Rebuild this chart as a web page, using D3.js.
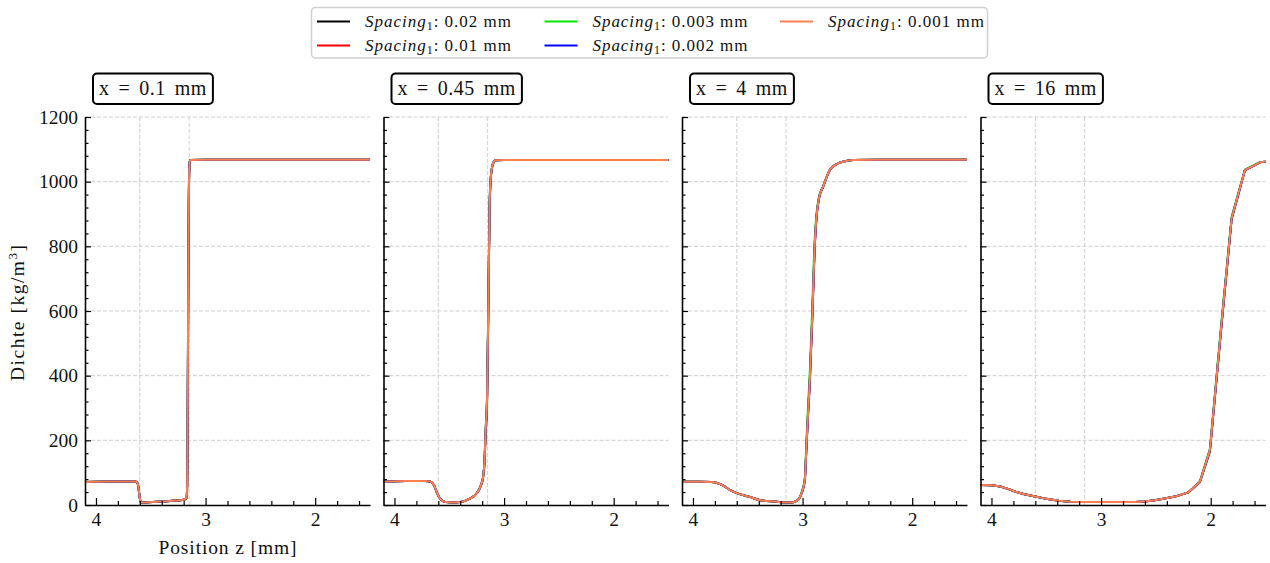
<!DOCTYPE html>
<html><head><meta charset="utf-8">
<script src="https://cdn.jsdelivr.net/npm/d3@7"></script>
<style>body{margin:0;background:#fff}svg{display:block}text{font-family:"Liberation Serif",serif;fill:#111}</style>
</head><body><svg id="c" width="1270" height="563"></svg>
<script>
// ---------- data ----------
const seriesLabels = ["0.02 mm", "0.01 mm", "0.003 mm", "0.002 mm", "0.001 mm"];
const seriesColors = ["#000000", "#ff0000", "#00e600", "#0000ff", "#ff7f50"];
const panelTitles = ["x = 0.1 mm", "x = 0.45 mm", "x = 4 mm", "x = 16 mm"];
const xTicks = [4, 3, 2];
const xMinorTicks = [3.8, 3.6, 3.4, 3.2, 2.8, 2.6, 2.4, 2.2, 1.8, 1.6];
const yTicks = [0, 200, 400, 600, 800, 1000, 1200];
const yMinorTicks = [40, 80, 120, 160, 240, 280, 320, 360, 440, 480, 520, 560, 640, 680, 720, 760, 840, 880, 920, 960, 1040, 1080, 1120, 1160];
const refLines = [3.6, 3.15];

// x = 0.1 mm
const z1 = [4.10, 3.90, 3.70, 3.64, 3.62, 3.605, 3.595, 3.585, 3.40, 3.20, 3.175, 3.168, 3.163, 3.158, 3.153, 3.148, 3.143, 3.138, 3.00, 2.50, 2.00, 1.50];
const rho1 = [
  [71, 73, 73, 73, 66, 33, 12, 8, 11, 16, 20, 50, 260, 660, 930, 1040, 1063, 1067, 1068, 1068, 1068, 1068],
  [71, 73, 73, 73, 67, 34, 12, 8, 11, 16, 21, 55, 280, 680, 940, 1043, 1064, 1067, 1068, 1068, 1068, 1068],
  [71, 73, 73, 73, 68, 35, 12, 8, 11, 16, 22, 62, 310, 710, 955, 1046, 1064, 1067, 1068, 1068, 1068, 1068],
  [71, 73, 73, 73, 68, 35, 12, 8, 11, 16, 22, 61, 305, 705, 952, 1045, 1064, 1067, 1068, 1068, 1068, 1068],
  [71, 73, 73, 73, 68, 35, 12, 8, 11, 16, 22, 60, 300, 700, 950, 1045, 1064, 1067, 1068, 1068, 1068, 1068]
];
// x = 0.45 mm
const z2 = [4.10, 3.90, 3.72, 3.67, 3.64, 3.61, 3.58, 3.535, 3.46, 3.398, 3.323, 3.246, 3.216, 3.191, 3.18, 3.168, 3.155, 3.143, 3.131, 3.125, 3.109, 3.095, 3.079, 3.00, 2.50, 2.00, 1.50];
const rho2 = [
  [72, 74, 74, 72, 61, 35, 18, 9, 8, 9, 18, 38, 56, 85, 122, 220, 320, 620, 930, 990, 1044, 1060, 1066, 1067, 1067, 1067, 1067],
  [72, 74, 74, 72, 62, 36, 18, 9, 8, 9, 18, 38, 57, 87, 126, 226, 328, 630, 937, 992, 1045, 1061, 1066, 1067, 1067, 1067, 1067],
  [72, 74, 74, 72, 62, 36, 18, 9, 8, 9, 18, 38, 57, 88, 130, 235, 340, 645, 946, 996, 1046, 1061, 1066, 1067, 1067, 1067, 1067],
  [72, 74, 74, 72, 62, 36, 18, 9, 8, 9, 18, 38, 57, 88, 129, 233, 337, 642, 944, 995, 1046, 1061, 1066, 1067, 1067, 1067, 1067],
  [72, 74, 74, 72, 62, 36, 18, 9, 8, 9, 18, 38, 57, 88, 129, 232, 335, 640, 943, 995, 1046, 1061, 1066, 1067, 1067, 1067, 1067]
];
// x = 4 mm
const z3 = [4.10, 3.95, 3.83, 3.78, 3.72, 3.66, 3.594, 3.49, 3.388, 3.236, 3.176, 3.10, 3.055, 3.03, 3.01, 2.98, 2.965, 2.95, 2.934, 2.91, 2.89, 2.873, 2.85, 2.812, 2.78, 2.752, 2.70, 2.661, 2.60, 2.54, 2.30, 2.00, 1.50];
const rho3 = [
  [72, 72, 71, 68, 59, 46, 36, 26, 15, 10, 8, 8, 13, 20, 36, 75, 175, 278, 380, 590, 792, 888, 948, 984, 1014, 1035, 1052, 1059, 1064, 1067, 1068, 1068, 1068],
  [72, 72, 71, 68, 59, 46, 36, 26, 15, 10, 8, 8, 13, 20, 36, 76, 178, 281, 384, 595, 796, 890, 949, 985, 1015, 1036, 1052, 1059, 1064, 1067, 1068, 1068, 1068],
  [72, 72, 71, 68, 59, 46, 36, 26, 15, 10, 8, 8, 13, 20, 38, 84, 200, 310, 415, 630, 820, 902, 954, 987, 1016, 1036, 1052, 1059, 1064, 1067, 1068, 1068, 1068],
  [72, 72, 71, 68, 59, 46, 36, 26, 15, 10, 8, 8, 13, 20, 36, 77, 180, 284, 387, 600, 800, 892, 950, 985, 1015, 1036, 1052, 1059, 1064, 1067, 1068, 1068, 1068],
  [72, 72, 71, 68, 59, 46, 36, 26, 15, 10, 8, 8, 13, 20, 36, 77, 180, 284, 387, 600, 800, 892, 950, 985, 1015, 1036, 1052, 1059, 1064, 1067, 1068, 1068, 1068]
];
// x = 16 mm
const z4 = [4.10, 4.00, 3.918, 3.85, 3.78, 3.70, 3.60, 3.50, 3.387, 3.28, 3.174, 3.00, 2.80, 2.69, 2.60, 2.51, 2.42, 2.325, 2.204, 2.098, 2.007, 1.90, 1.809, 1.688, 1.551, 1.50];
const rho4 = [
  [62, 61, 57, 50, 41, 33, 26, 19, 13, 10, 9, 9, 9, 9, 11, 15, 20, 26, 39, 71, 166, 560, 884, 1035, 1060, 1062],
  [62, 61, 57, 50, 41, 33, 26, 19, 13, 10, 9, 9, 9, 9, 11, 15, 20, 26, 39, 72, 168, 563, 886, 1036, 1060, 1062],
  [62, 61, 57, 50, 41, 33, 26, 19, 13, 10, 9, 9, 9, 9, 11, 15, 20, 26, 39, 73, 175, 575, 892, 1037, 1060, 1062],
  [62, 61, 57, 50, 41, 33, 26, 19, 13, 10, 9, 9, 9, 9, 11, 15, 20, 26, 39, 72, 170, 566, 887, 1036, 1060, 1062],
  [62, 61, 57, 50, 41, 33, 26, 19, 13, 10, 9, 9, 9, 9, 11, 15, 20, 26, 39, 72, 170, 566, 887, 1036, 1060, 1062]
];

const panelZ = [z1, z2, z3, z4];
const panelRho = [rho1, rho2, rho3, rho4];

// ---------- layout ----------
const svg = d3.select("#c");
const panelLefts = [85, 383.5, 682, 980.5];
const panelW = 285, yTop = 117, yBot = 505;
const y = d3.scaleLinear().domain([0, 1200]).range([yBot, yTop]);

panelLefts.forEach((left, i) => {
  const x = d3.scaleLinear().domain([4.1, 1.5]).range([left, left + panelW]);
  const g = svg.append("g");

  // grid
  g.selectAll(".hg").data(yTicks.filter(v => v > 0)).join("line")
    .attr("x1", left).attr("x2", left + panelW)
    .attr("y1", d => y(d)).attr("y2", d => y(d))
    .attr("stroke", "#cfcfcf").attr("stroke-width", 1).attr("stroke-dasharray", "4,2");
  g.selectAll(".vg").data(refLines).join("line")
    .attr("x1", d => x(d)).attr("x2", d => x(d))
    .attr("y1", yTop).attr("y2", yBot)
    .attr("stroke", "#cfcfcf").attr("stroke-width", 1).attr("stroke-dasharray", "4,2");

  // lines
  const zs = panelZ[i];
  const line = d3.line().x(d => x(d[0])).y(d => y(d[1]))
    .curve(i === 3 ? d3.curveLinear : d3.curveMonotoneX);
  panelRho[i].forEach((vals, s) => {
    g.append("path").datum(zs.map((z, k) => [z, vals[k]]))
      .attr("d", line).attr("fill", "none")
      .attr("stroke", seriesColors[s]).attr("stroke-width", 2)
      .attr("stroke-linejoin", "round");
  });

  // axes
  const axG = g.append("g");
  axG.append("g").attr("transform", `translate(0,${yBot})`)
    .call(d3.axisBottom(x).tickValues(xTicks).tickFormat(d3.format("d")).tickSizeInner(-7).tickSizeOuter(0).tickPadding(7.5));
  axG.append("g").attr("transform", `translate(0,${yBot})`)
    .call(d3.axisBottom(x).tickValues(xMinorTicks).tickFormat("").tickSizeInner(-4).tickSizeOuter(0))
    .select(".domain").remove();
  axG.append("g").attr("transform", `translate(${left},0)`)
    .call(d3.axisLeft(y).tickValues(yTicks).tickFormat(i === 0 ? d3.format("d") : "").tickSizeInner(-6).tickSizeOuter(0).tickPadding(7));
  axG.append("g").attr("transform", `translate(${left},0)`)
    .call(d3.axisLeft(y).tickValues(yMinorTicks).tickFormat("").tickSizeInner(-3.5).tickSizeOuter(0))
    .select(".domain").remove();
  axG.selectAll(".domain").attr("stroke", "#000").attr("stroke-width", 1.6);
  axG.selectAll(".tick line").attr("stroke", "#000").attr("stroke-width", 1.2);
  axG.selectAll(".tick text").attr("font-family", "Liberation Serif").attr("font-size", 19.5).attr("fill", "#111");

  // title box
  const tg = g.append("g");
  const rect = tg.append("rect").attr("x", left + 8).attr("y", 73.5).attr("height", 30.5)
    .attr("rx", 4).attr("fill", "#fff").attr("stroke", "#000").attr("stroke-width", 2);
  const tt = tg.append("text").attr("x", left + 14).attr("y", 95)
    .attr("font-size", 20).attr("letter-spacing", 0.5).attr("word-spacing", 3.5).text(panelTitles[i]);
  const w = tt.node().getComputedTextLength();
  rect.attr("width", w + 12);
});

// axis labels
svg.append("text").attr("x", panelLefts[0] + panelW / 2).attr("y", 554).attr("text-anchor", "middle")
  .attr("font-size", 19.5).attr("textLength", 138).attr("lengthAdjust", "spacing").text("Position z [mm]");
const yl = svg.append("text").attr("transform", "translate(24,313) rotate(-90)").attr("text-anchor", "middle")
  .attr("font-size", 19.5).attr("textLength", 136).attr("lengthAdjust", "spacing");
yl.append("tspan").text("Dichte [kg/m");
yl.append("tspan").attr("font-size", 13).attr("dy", -7).text("3");
yl.append("tspan").attr("dy", 7).text("]");

// legend
const lg = svg.append("g");
lg.append("rect").attr("x", 311.5).attr("y", 7.5).attr("width", 676).attr("height", 50.5).attr("rx", 4)
  .attr("fill", "#fff").attr("stroke", "#d0d0d0").attr("stroke-width", 1.5);
const colX = [317, 544.5, 780];
const rowY = [21.5, 45.5];
const textW = [146, 146, 155, 155, 156];
seriesLabels.forEach((lab, s) => {
  const col = Math.floor(s / 2), row = s % 2;
  const cx = colX[col], cy = rowY[row];
  lg.append("line").attr("x1", cx).attr("x2", cx + 33).attr("y1", cy).attr("y2", cy)
    .attr("stroke", seriesColors[s]).attr("stroke-width", 2);
  const t = lg.append("text").attr("x", cx + 48).attr("y", cy + 5).attr("font-size", 17)
    .attr("textLength", textW[s]).attr("lengthAdjust", "spacing");
  t.append("tspan").attr("font-style", "italic").text("Spacing");
  t.append("tspan").attr("font-size", 12).attr("dy", 3).text("1");
  t.append("tspan").attr("dy", -3).text(": " + lab);
});
</script>
</body></html>
